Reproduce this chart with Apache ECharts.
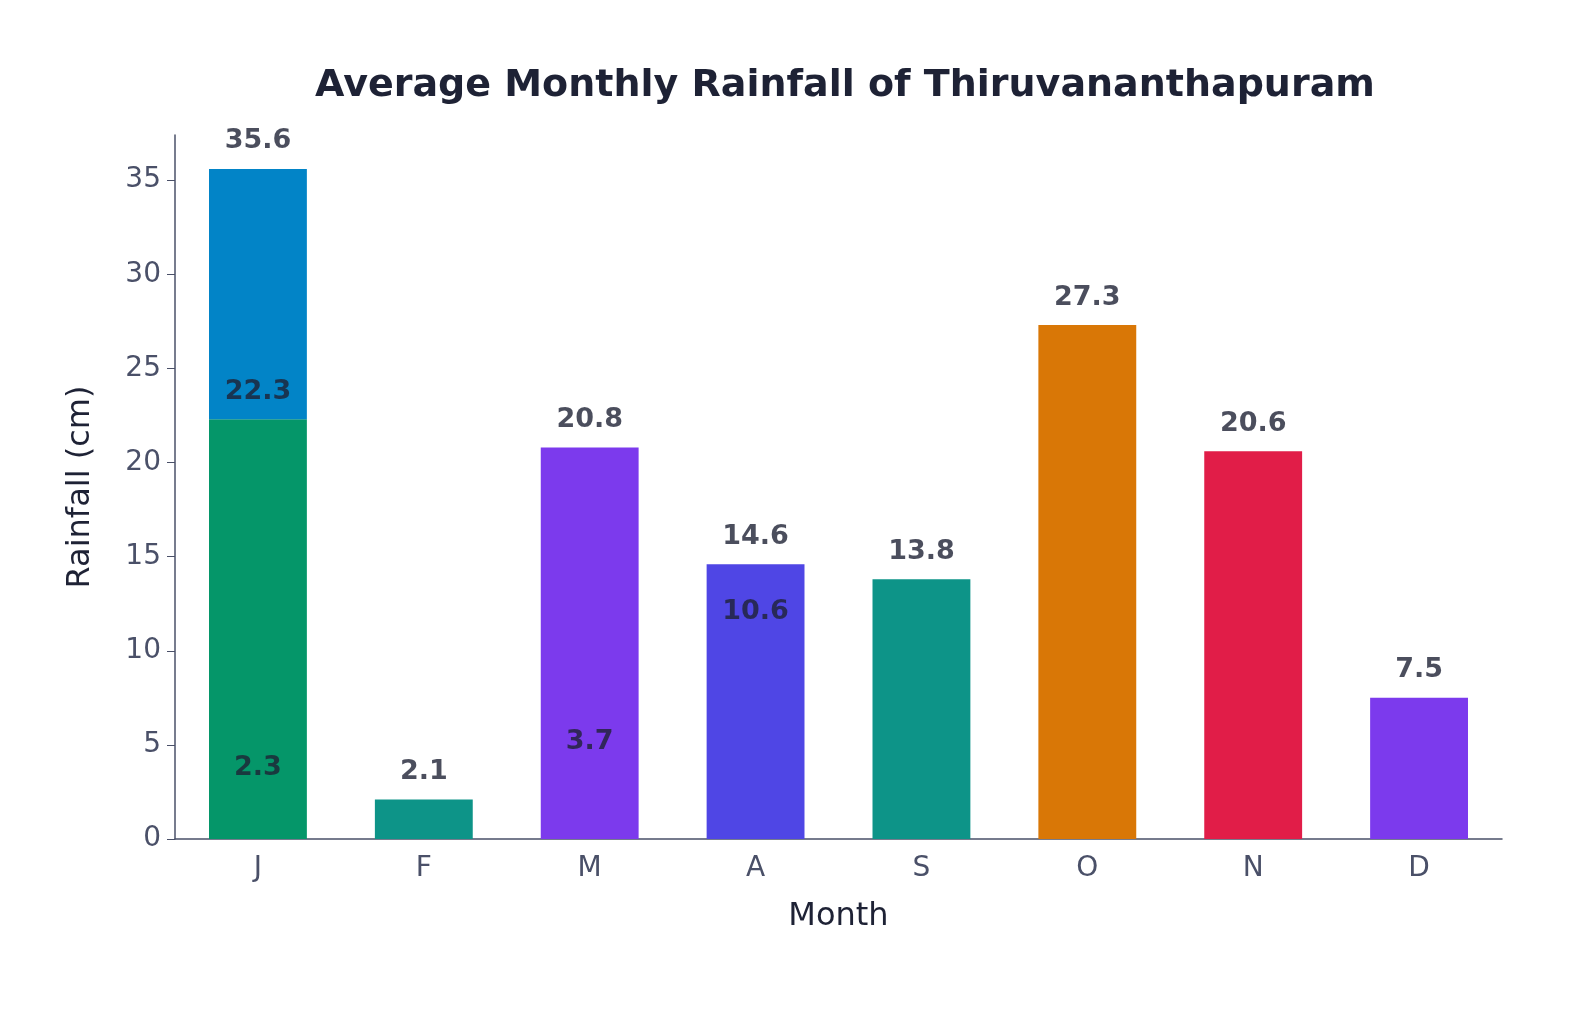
<!DOCTYPE html><html><head><meta charset="utf-8"><script src="https://cdn.jsdelivr.net/npm/echarts@6/dist/echarts.min.js"></script><style>body{margin:0}#c{width:1579px;height:1011px}</style></head><body><div id="c"></div><script>
const months=["J","F","M","A","S","O","N","D"];
const baseValues=[22.3,2.1,20.8,14.6,13.8,27.3,20.6,7.5];
const topValues=[13.3,0,0,0,0,0,0,0];
const baseColors=["#059669","#0d9488","#7c3aed","#4f46e5","#0d9488","#d97706","#e11d48","#7c3aed"];
const topColor="#0284c7";
const labelPoints=[["J",35.6],["J",22.3],["J",2.3],["F",2.1],["M",20.8],["M",3.7],["A",14.6],["A",10.6],["S",13.8],["O",27.3],["N",20.6],["D",7.5]];
const ch=echarts.init(document.getElementById('c'));
const ff="DejaVu Sans";
ch.setOption({
title:{text:"Average Monthly Rainfall of Thiruvananthapuram",left:840,textAlign:'center',top:62,textStyle:{fontFamily:ff,fontSize:38,fontWeight:'bold',color:'#1e2235'}},
grid:{left:175,right:77,top:135,bottom:172},
xAxis:{type:'category',data:months,name:'Month',nameLocation:'middle',nameGap:62,nameTextStyle:{fontFamily:ff,fontSize:32,color:'#1e2235'},
axisLine:{lineStyle:{color:'#4a5068',width:1.5}},axisTick:{alignWithLabel:true,length:8,lineStyle:{color:'#4a5068'}},axisLabel:{fontFamily:ff,fontSize:28,color:'#4a5068',margin:16}},
yAxis:{type:'value',min:0,max:37.4,interval:5,name:'Rainfall (cm)',nameLocation:'middle',nameGap:78,nameTextStyle:{fontFamily:ff,fontSize:32,color:'#1e2235'},
axisLine:{show:true,lineStyle:{color:'#4a5068',width:1.5}},axisTick:{show:true,length:8,lineStyle:{color:'#4a5068'}},splitLine:{show:false},
axisLabel:{fontFamily:ff,fontSize:28,color:'#4a5068',margin:14,showMaxLabel:false}},
series:[
{type:'bar',stack:'a',barWidth:'59%',data:baseValues.map((v,i)=>({value:v,itemStyle:{color:baseColors[i]}}))},
{type:'bar',stack:'a',barWidth:'59%',data:topValues.map(v=>v||'-'),itemStyle:{color:topColor}},
{type:'scatter',symbolSize:0,data:labelPoints,z:10,label:{show:true,position:'top',distance:14,formatter:p=>p.value[1].toFixed(1),fontFamily:ff,fontSize:27,fontWeight:'bold',color:'#1e2235'}}
]});
</script></body></html>
